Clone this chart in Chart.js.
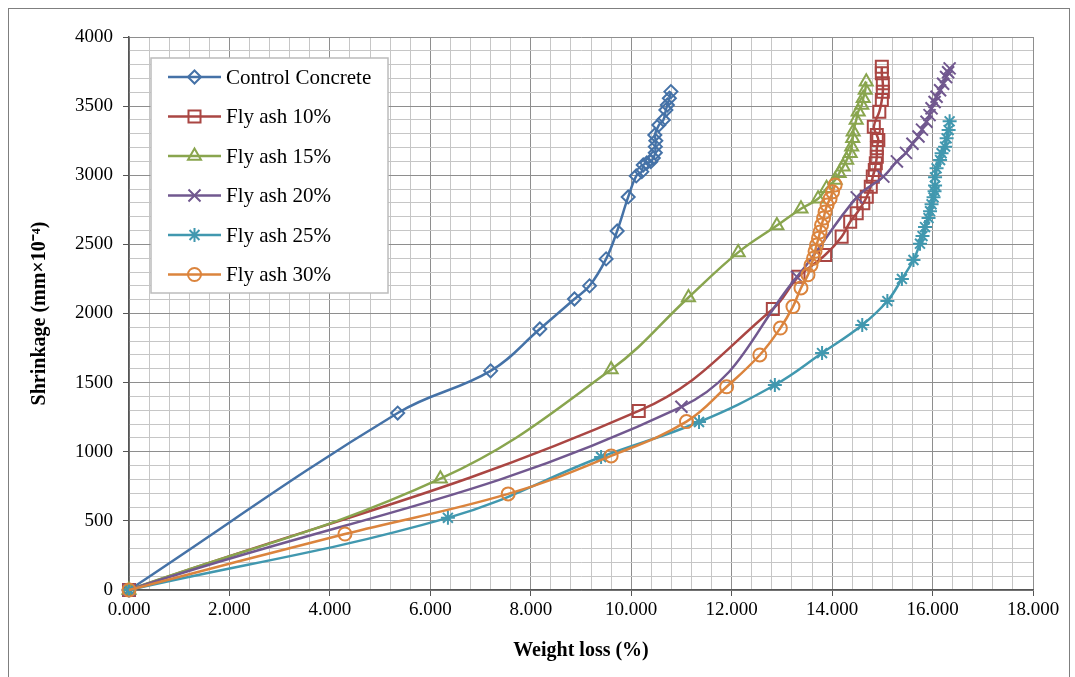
<!DOCTYPE html>
<html>
<head>
<meta charset="utf-8">
<script src="https://cdn.jsdelivr.net/npm/chart.js@4/dist/chart.umd.min.js"></script>
<style>
  html, body { margin: 0; padding: 0; background: #fff; }
  #wrap { width: 1075px; height: 677px; position: relative; }
</style>
</head>
<body>
<div id="wrap"><canvas id="chartCanvas" width="1075" height="677"></canvas></div>
<script>
// legend order
var seriesNames = ['Control Concrete', 'Fly ash 10%', 'Fly ash 15%', 'Fly ash 20%', 'Fly ash 25%', 'Fly ash 30%'];

// weight loss (%) and shrinkage (mm x 10^-4)
var controlX = [0, 5.35, 7.2, 8.18, 8.87, 9.17, 9.5, 9.72, 9.94, 10.1, 10.21, 10.24, 10.31, 10.39, 10.44, 10.48, 10.48, 10.49, 10.47, 10.55, 10.64, 10.69, 10.72, 10.76, 10.79];
var controlY = [0, 1280, 1585, 1888, 2105, 2200, 2395, 2597, 2843, 2995, 3026, 3074, 3089, 3098, 3125, 3163, 3207, 3250, 3291, 3363, 3400, 3472, 3508, 3557, 3605];

var fa10X = [0, 10.15, 12.82, 13.33, 13.86, 14.19, 14.36, 14.49, 14.62, 14.69, 14.77, 14.81, 14.85, 14.87, 14.89, 14.89, 14.92, 14.89, 14.83, 14.94, 14.99, 15.01, 15.01, 14.99, 14.99];
var fa10Y = [0, 1295, 2033, 2266, 2423, 2556, 2664, 2725, 2797, 2845, 2917, 2990, 3038, 3086, 3134, 3195, 3255, 3291, 3351, 3460, 3544, 3604, 3665, 3737, 3785];

var fa15X = [0, 6.2, 9.6, 11.14, 12.13, 12.9, 13.38, 13.72, 13.89, 14.06, 14.14, 14.22, 14.29, 14.36, 14.39, 14.41, 14.42, 14.48, 14.52, 14.59, 14.62, 14.66, 14.68];
var fa15Y = [0, 805, 1595, 2116, 2442, 2636, 2758, 2830, 2906, 2966, 3014, 3062, 3110, 3159, 3207, 3267, 3315, 3400, 3460, 3508, 3557, 3617, 3677];

var fa20X = [0, 11.0, 13.3, 14.49, 15.02, 15.29, 15.47, 15.6, 15.72, 15.79, 15.88, 15.94, 15.98, 16.04, 16.08, 16.15, 16.21, 16.27, 16.31, 16.34];
var fa20Y = [0, 1325, 2265, 2840, 2990, 3100, 3162, 3228, 3280, 3330, 3387, 3435, 3484, 3530, 3568, 3615, 3662, 3710, 3745, 3773];

var fa25X = [0, 6.35, 9.4, 11.35, 12.86, 13.8, 14.6, 15.1, 15.39, 15.62, 15.75, 15.8, 15.85, 15.92, 15.95, 15.98, 16.02, 16.04, 16.05, 16.05, 16.08, 16.15, 16.18, 16.25, 16.28, 16.32, 16.34];
var fa25Y = [0, 522, 962, 1215, 1483, 1714, 1917, 2090, 2250, 2387, 2505, 2560, 2625, 2690, 2740, 2790, 2840, 2885, 2925, 2985, 3050, 3110, 3159, 3207, 3267, 3327, 3390];

var fa30X = [0, 4.3, 7.55, 9.6, 11.1, 11.9, 12.56, 12.97, 13.22, 13.38, 13.52, 13.58, 13.63, 13.66, 13.69, 13.73, 13.76, 13.79, 13.83, 13.86, 13.9, 13.96, 14.01, 14.06];
var fa30Y = [0, 405, 695, 970, 1218, 1470, 1700, 1895, 2050, 2185, 2280, 2350, 2400, 2450, 2495, 2545, 2590, 2640, 2690, 2735, 2785, 2830, 2880, 2930];

// labelled ticks
var xLabelTicks = [0, 2, 4, 6, 8, 10, 12, 14, 16, 18];
var yLabelTicks = [0, 500, 1000, 1500, 2000, 2500, 3000, 3500, 4000];

var seriesX = [controlX, fa10X, fa15X, fa20X, fa25X, fa30X];
var seriesY = [controlY, fa10Y, fa15Y, fa20Y, fa25Y, fa30Y];

// styles
var seriesColors = ['#4572A7', '#AA4643', '#89A54E', '#71588F', '#4198AF', '#DB843D'];
var seriesMarkers = ['rectRot', 'rect', 'triangle', 'crossRot', 'star', 'circle'];
var markerRadius = [6.5, 8.5, 7.5, 8.5, 7, 6.5];

var SERIF = '"Liberation Serif", "Times New Roman", serif';

function isLabelTick(v, list) {
  for (var i = 0; i < list.length; i++) {
    if (Math.abs(v - list[i]) < 1e-6) return true;
  }
  return false;
}

var datasets = seriesNames.map(function (name, i) {
  return {
    label: name,
    data: seriesX[i].map(function (x, j) { return { x: x, y: seriesY[i][j] }; }),
    showLine: true,
    borderColor: seriesColors[i],
    backgroundColor: 'rgba(0,0,0,0)',
    borderWidth: 2.5,
    tension: 0.4,
    pointStyle: seriesMarkers[i],
    pointRadius: markerRadius[i],
    pointBorderColor: seriesColors[i],
    pointBackgroundColor: 'rgba(0,0,0,0)',
    pointBorderWidth: 2,
    order: seriesNames.length - i,
    clip: false
  };
});

// white page with thin outer frame
var framePlugin = {
  id: 'frame',
  beforeDraw: function (chart) {
    var ctx = chart.ctx;
    ctx.save();
    ctx.fillStyle = '#fff';
    ctx.fillRect(0, 0, chart.width, chart.height);
    ctx.strokeStyle = '#7f7f7f';
    ctx.lineWidth = 1;
    ctx.strokeRect(8.5, 8.5, 1061, 700);
    ctx.restore();
  }
};

// boxed legend inside the plot, top left
var boxLegend = {
  id: 'boxLegend',
  afterDraw: function (chart) {
    var ctx = chart.ctx;
    var left = 151, top = 58, w = 237, h = 235;
    ctx.save();
    ctx.fillStyle = '#fff';
    ctx.fillRect(left, top, w, h);
    ctx.strokeStyle = '#bcbcbc';
    ctx.lineWidth = 1.5;
    ctx.strokeRect(left, top, w, h);
    ctx.font = '21px ' + SERIF;
    ctx.textBaseline = 'middle';
    ctx.textAlign = 'left';
    seriesNames.forEach(function (name, i) {
      var y = top + 19 + i * 39.5;
      ctx.strokeStyle = seriesColors[i];
      ctx.lineWidth = 2.5;
      ctx.beginPath();
      ctx.moveTo(168, y);
      ctx.lineTo(221, y);
      ctx.stroke();
      ctx.fillStyle = 'rgba(0,0,0,0)';
      ctx.lineWidth = 2;
      Chart.helpers.drawPoint(ctx, {
        pointStyle: seriesMarkers[i],
        radius: markerRadius[i],
        rotation: 0,
        borderWidth: 2
      }, 194.5, y);
      ctx.fillStyle = '#000';
      ctx.fillText(name, 226, y + 1);
    });
    ctx.restore();
  }
};

var chartContext = document.getElementById('chartCanvas').getContext('2d');

var chartLine = new Chart(chartContext, {
  type: 'scatter',
  data: { datasets: datasets },
  plugins: [framePlugin, boxLegend],
  options: {
    responsive: false,
    animation: false,
    devicePixelRatio: 1,
    events: [],
    layout: { padding: { left: 0, top: 37, right: 42, bottom: 0 } },
    plugins: {
      legend: { display: false },
      tooltip: { enabled: false }
    },
    scales: {
      x: {
        type: 'linear',
        min: 0,
        max: 18,
        afterFit: function (s) { s.height = 87; },
        ticks: {
          stepSize: 0.4,
          autoSkip: false,
          maxRotation: 0,
          padding: 3,
          color: '#000',
          font: { family: SERIF, size: 19 },
          callback: function (v) {
            return isLabelTick(v, xLabelTicks) ? Number(v).toFixed(3) : '';
          }
        },
        grid: {
          lineWidth: 1,
          tickLength: 6,
          color: function (c) {
            return isLabelTick(c.tick.value, xLabelTicks) ? '#8e8e8e' : '#c6c6c6';
          },
          tickColor: function (c) {
            return isLabelTick(c.tick.value, xLabelTicks) ? '#555' : 'rgba(0,0,0,0)';
          }
        },
        border: { display: true, color: '#555', width: 1.5 },
        title: {
          display: true,
          text: 'Weight loss (%)',
          color: '#000',
          font: { family: SERIF, size: 20, weight: 'bold' },
          padding: { top: 0, bottom: 14 }
        }
      },
      y: {
        type: 'linear',
        min: 0,
        max: 4000,
        afterFit: function (s) { s.width = 129; },
        ticks: {
          stepSize: 100,
          autoSkip: false,
          padding: 10,
          color: '#000',
          font: { family: SERIF, size: 19 },
          callback: function (v) {
            return isLabelTick(v, yLabelTicks) ? String(v) : '';
          }
        },
        grid: {
          lineWidth: 1,
          tickLength: 6,
          color: function (c) {
            return isLabelTick(c.tick.value, yLabelTicks) ? '#8e8e8e' : '#c6c6c6';
          },
          tickColor: function (c) {
            return isLabelTick(c.tick.value, yLabelTicks) ? '#555' : 'rgba(0,0,0,0)';
          }
        },
        border: { display: true, color: '#555', width: 1.5 },
        title: {
          display: true,
          text: 'Shrinkage (mm\u00d710\u207b\u2074)',
          color: '#000',
          font: { family: SERIF, size: 20, weight: 'bold' },
          padding: { top: 28, bottom: 0 }
        }
      }
    }
  }
});
</script>
</body>
</html>
